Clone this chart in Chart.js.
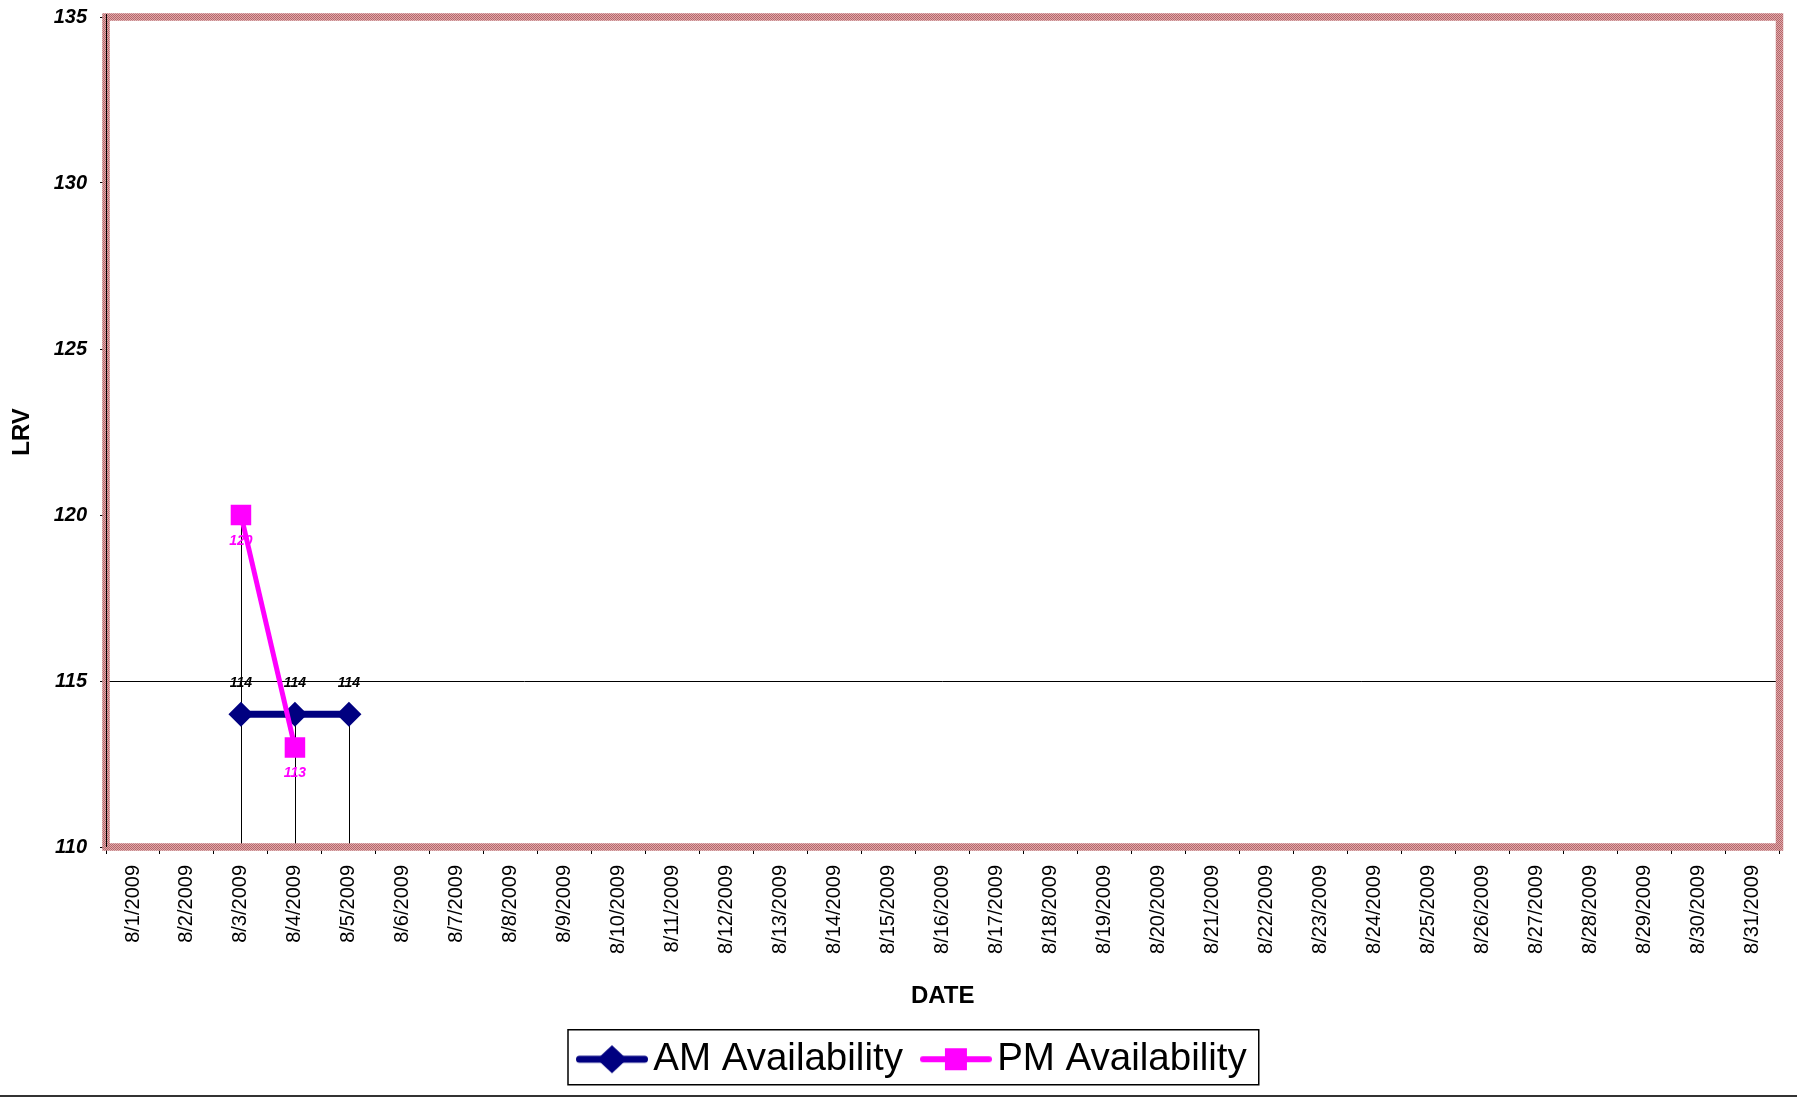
<!DOCTYPE html>
<html><head><meta charset="utf-8">
<script src="https://cdn.jsdelivr.net/npm/chart.js@4.4.1/dist/chart.umd.min.js"></script>
<style>html,body{margin:0;padding:0;background:#fff;}#wrap{position:relative;width:1797px;height:1099px;}</style>
</head><body><div id="wrap"><canvas id="c"></canvas></div>
<script>
const categories = ['8/1/2009','8/2/2009','8/3/2009','8/4/2009','8/5/2009','8/6/2009','8/7/2009','8/8/2009','8/9/2009','8/10/2009','8/11/2009','8/12/2009','8/13/2009','8/14/2009','8/15/2009','8/16/2009','8/17/2009','8/18/2009','8/19/2009','8/20/2009','8/21/2009','8/22/2009','8/23/2009','8/24/2009','8/25/2009','8/26/2009','8/27/2009','8/28/2009','8/29/2009','8/30/2009','8/31/2009'];
const amAvailability = [null,null,114,114,114,null,null,null,null,null,null,null,null,null,null,null,null,null,null,null,null,null,null,null,null,null,null,null,null,null,null];
const pmAvailability = [null,null,120,113,null,null,null,null,null,null,null,null,null,null,null,null,null,null,null,null,null,null,null,null,null,null,null,null,null,null,null];
const referenceLine = 115;
const yTicks = [110,115,120,125,130,135];

const FONT = "'Liberation Sans', Arial, sans-serif";
const NAVY = '#000080', MAGENTA = '#ff00ff';
const PAD_BOTTOM = 10.5;

function hatch(){
  const c=document.createElement('canvas'); c.width=2; c.height=2;
  const g=c.getContext('2d');
  g.fillStyle='#dfa9aa'; g.fillRect(0,0,2,2);
  g.fillStyle='#b5666a'; g.fillRect(0,0,1,1); g.fillRect(1,1,1,1);
  return c;
}
function legendIcon(type,color,lw){
  const c=document.createElement('canvas'); c.width=72; c.height=34;
  const g=c.getContext('2d');
  g.strokeStyle=color; g.lineWidth=lw; g.lineCap='round';
  g.beginPath(); g.moveTo(lw/2,17); g.lineTo(72-lw/2,17); g.stroke();
  g.fillStyle=color;
  if(type==='diamond'){ g.beginPath(); g.moveTo(36,3); g.lineTo(51,17); g.lineTo(36,31); g.lineTo(21,17); g.closePath(); g.fill(); }
  else { g.fillRect(25,6,22,22); }
  return c;
}
const icons = [legendIcon('diamond',NAVY,7), legendIcon('square',MAGENTA,6)];

const deco = {
  id:'deco',
  afterLayout(chart){
    const lg=chart.legend; const pad=lg.options.labels.padding;
    const sx=(lg.left+pad+lg.right-lg.lineWidths[0])/2;
    const d=590-sx; lg.left+=d; lg.right+=d;
  },
  beforeDatasetsDraw(chart){
    const {ctx, chartArea:a, scales:{x,y}} = chart;
    ctx.save();
    ctx.strokeStyle='#000'; ctx.lineWidth=1;
    const yy=Math.round(y.getPixelForValue(referenceLine))+0.5;
    ctx.beginPath(); ctx.moveTo(a.left,yy); ctx.lineTo(a.right,yy); ctx.stroke();
    for(let i=0;i<categories.length;i++){
      const vals=[amAvailability[i],pmAvailability[i]].filter(v=>v!=null);
      if(!vals.length) continue;
      const px=Math.round(x.getPixelForValue(i))+0.5;
      ctx.beginPath(); ctx.moveTo(px,y.getPixelForValue(Math.max(...vals))); ctx.lineTo(px,a.bottom); ctx.stroke();
    }
    ctx.strokeStyle=ctx.createPattern(hatch(),'repeat');
    ctx.lineWidth=7.5;
    ctx.strokeRect(a.left,a.top,a.right-a.left,a.bottom-a.top);
    ctx.strokeStyle='#000'; ctx.lineWidth=1;
    ctx.beginPath(); ctx.moveTo(a.left+0.5,a.top-3); ctx.lineTo(a.left+0.5,a.bottom); ctx.stroke();
    ctx.restore();
  },
  afterDatasetsDraw(chart){
    const ctx=chart.ctx; ctx.save();
    ctx.font='italic bold 14px '+FONT; ctx.textAlign='center'; ctx.textBaseline='middle';
    const m0=chart.getDatasetMeta(0), m1=chart.getDatasetMeta(1);
    amAvailability.forEach((v,i)=>{ if(v==null) return; const p=m0.data[i]; ctx.fillStyle='#000'; ctx.fillText(String(v),p.x,p.y-31); });
    pmAvailability.forEach((v,i)=>{ if(v==null) return; const p=m1.data[i]; ctx.fillStyle=MAGENTA; ctx.fillText(String(v),p.x,p.y+26); });
    ctx.restore();
  },
  afterDraw(chart){
    const ctx=chart.ctx, lg=chart.legend;
    const pad=lg.options.labels.padding, fs=lg.options.labels.font.size;
    const startX=(lg.left+pad+lg.right-lg.lineWidths[0])/2;
    const endX=startX+lg.lineWidths[0]-pad;
    const cy=lg.top+pad+fs/2;
    ctx.save();
    ctx.strokeStyle='#000'; ctx.lineWidth=1.5;
    ctx.strokeRect(startX-22, cy-29.5, endX-startX+34, 55);
    ctx.fillStyle='#333'; ctx.fillRect(0,1095,chart.width,2);
    ctx.restore();
  }
};

new Chart(document.getElementById('c'), {
  type:'line',
  data:{
    labels:categories,
    datasets:[
      {label:'AM Availability', data:amAvailability, borderColor:NAVY, backgroundColor:NAVY, borderWidth:7,
       pointStyle:'rectRot', pointRadius:12.5, pointHoverRadius:12.5, pointBorderWidth:0, order:2, spanGaps:false, tension:0},
      {label:'PM Availability', data:pmAvailability, borderColor:MAGENTA, backgroundColor:MAGENTA, borderWidth:5,
       pointStyle:'rect', pointRadius:14.5, pointHoverRadius:14.5, pointBorderWidth:0, order:1, spanGaps:false, tension:0}
    ]
  },
  options:{
    responsive:true, maintainAspectRatio:false, animation:false, events:[],
    layout:{padding:{left:0,right:17.5,top:17,bottom:PAD_BOTTOM}},
    plugins:{
      tooltip:{enabled:false},
      legend:{
        position:'bottom',
        labels:{
          usePointStyle:true, pointStyleWidth:44, padding:31, color:'#000',
          font:{family:FONT,size:38.5},
          generateLabels(chart){
            const items=Chart.defaults.plugins.legend.labels.generateLabels(chart);
            items.forEach(it=>{ it.pointStyle=icons[it.datasetIndex]; });
            return items.sort((a,b)=>a.datasetIndex-b.datasetIndex);
          }
        }
      }
    },
    scales:{
      x:{
        type:'category', offset:true,
        grid:{offset:true, drawOnChartArea:false, drawTicks:true, tickLength:7, color:'#000', lineWidth:1},
        border:{display:false},
        ticks:{autoSkip:false, minRotation:90, maxRotation:90, padding:11, color:'#000', font:{family:FONT,size:20}},
        title:{display:true, text:'DATE', color:'#000', font:{family:FONT,size:24,weight:'bold'}, padding:{top:0,bottom:-2}},
        afterFit(s){ s.height = s.chart.height - PAD_BOTTOM - s.chart.legend.height - 847; }
      },
      y:{
        min:110, max:135,
        afterBuildTicks(s){ s.ticks = yTicks.map(v=>({value:v})); },
        grid:{drawOnChartArea:false, drawTicks:true, tickLength:6, color:'#000', lineWidth:1},
        border:{display:false},
        ticks:{padding:13, color:'#000', font:{family:FONT,size:20,style:'italic',weight:'bold'}},
        title:{display:true, text:'LRV', color:'#000', font:{family:FONT,size:24,weight:'bold'}, padding:{top:8,bottom:0}},
        afterFit(s){ s.width = 106; s.paddingTop = 5; s.paddingBottom = 5; }
      }
    }
  },
  plugins:[deco]
});
</script>
</body></html>
